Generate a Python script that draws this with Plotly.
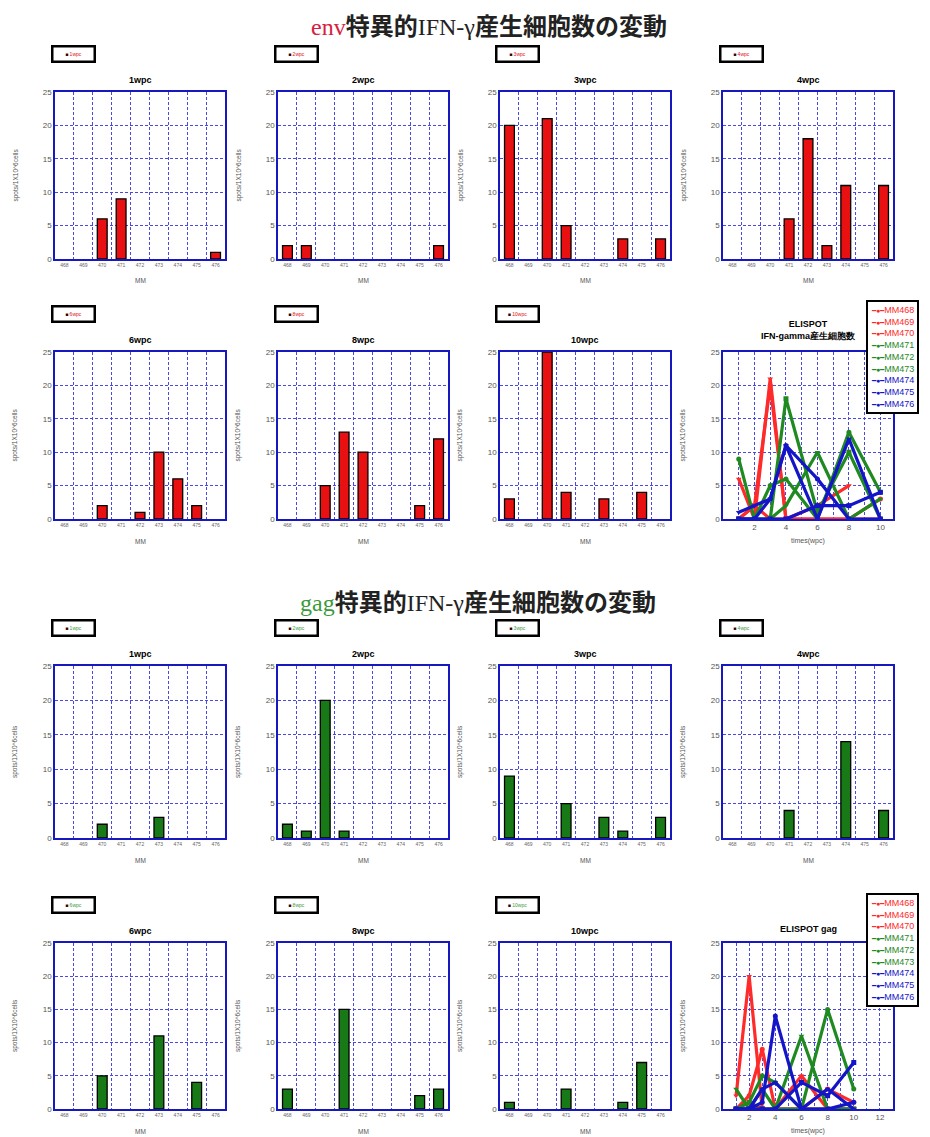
import plotly.graph_objects as go

# MM animal ids (x categories of every bar chart)
mm_ids = ["468", "469", "470", "471", "472", "473", "474", "475", "476"]
weeks = [1, 2, 3, 4, 6, 8, 10]
week_labels = ["1wpc", "2wpc", "3wpc", "4wpc", "6wpc", "8wpc", "10wpc"]

# env specific spots per week
env_1wpc = [0, 0, 6, 9, 0, 0, 0, 0, 1]
env_2wpc = [2, 2, 0, 0, 0, 0, 0, 0, 2]
env_3wpc = [20, 0, 21, 5, 0, 0, 3, 0, 3]
env_4wpc = [0, 0, 0, 6, 18, 2, 11, 0, 11]
env_6wpc = [0, 0, 2, 0, 1, 10, 6, 2, 0]
env_8wpc = [0, 0, 5, 13, 10, 0, 0, 2, 12]
env_10wpc = [3, 0, 25, 4, 0, 3, 0, 4, 0]

# gag specific spots per week
gag_1wpc = [0, 0, 2, 0, 0, 3, 0, 0, 0]
gag_2wpc = [2, 1, 20, 1, 0, 0, 0, 0, 0]
gag_3wpc = [9, 0, 0, 5, 0, 3, 1, 0, 3]
gag_4wpc = [0, 0, 0, 4, 0, 0, 14, 0, 4]
gag_6wpc = [0, 0, 5, 0, 0, 11, 0, 4, 0]
gag_8wpc = [3, 0, 0, 15, 0, 0, 0, 2, 3]
gag_10wpc = [1, 0, 0, 3, 0, 0, 1, 7, 0]

env_weeks = [env_1wpc, env_2wpc, env_3wpc, env_4wpc, env_6wpc, env_8wpc, env_10wpc]
gag_weeks = [gag_1wpc, gag_2wpc, gag_3wpc, gag_4wpc, gag_6wpc, gag_8wpc, gag_10wpc]

# the 10wpc point of MM470 is not drawn in the env line chart of the original
env_line_gaps = [("470", 10)]

W, H = 930, 1137
OFF = 8  # page body margin, positions below are measured on the screenshot
col_left = [55, 278, 500, 723]
plot_w = 170
row_top = [92, 352, 666, 943]
row_bottom = [259, 519, 838, 1109]

grid_col = "#4a4ae0"
line_col = "#1818c0"
font_main = "Liberation Sans"

# line colours per MM group
series_cols = ["#ff2a2a"] * 3 + ["#1f8a1f"] * 3 + ["#1414c8"] * 3
series_syms = ["circle", "square", "triangle-down"] * 3


def fx(v):
    return (v - OFF) / W


def fy(v):
    return 1 - (v - OFF) / H


def note(text, x, y, size, color="#555", **kw):
    a = dict(text=text, x=fx(x), y=fy(y), xref="paper", yref="paper", showarrow=False,
             xanchor="center", yanchor="middle", font=dict(size=size, color=color))
    a.update(kw)
    return a


fig = go.Figure()
axes = {}
annotations = []


def set_axes(n, row, col, xcfg):
    l = col_left[col]
    xa = dict(domain=[fx(l), fx(l + plot_w)], anchor="y%d" % n,
              showline=True, mirror=True, linecolor=line_col, linewidth=1.6,
              showgrid=True, gridcolor=grid_col, griddash="3px,2px", gridwidth=1.2,
              zeroline=False, ticks="", fixedrange=True)
    xa.update(xcfg)
    ya = dict(domain=[fy(row_bottom[row]), fy(row_top[row])], anchor="x%d" % n,
              range=[0, 25], dtick=5, showline=True, mirror=True, linecolor=line_col,
              linewidth=1.6, showgrid=True, gridcolor=grid_col, griddash="3px,2px", gridwidth=1.4,
              zeroline=False, ticks="", tickfont=dict(size=8, color="#555"), fixedrange=True)
    key = "" if n == 1 else str(n)
    axes["xaxis" + key] = xa
    axes["yaxis" + key] = ya
    # y axis title
    annotations.append(note("spots/1X10^6cells", l - 40, (row_top[row] + row_bottom[row]) / 2,
                            6.5, textangle=-90))


def add_bar_panel(n, row, col, vals, label, bar_col, txt_col):
    ax = "x" if n == 1 else "x%d" % n
    ay = "y" if n == 1 else "y%d" % n
    ys = [v if v else None for v in vals]
    fig.add_trace(go.Bar(x=mm_ids, y=ys, width=0.52, xaxis=ax, yaxis=ay, showlegend=False,
                         marker=dict(color=bar_col, line=dict(color="black", width=1.3))))
    set_axes(n, row, col, dict(type="category", tickson="boundaries", range=[-0.5, 8.5],
                               tickfont=dict(size=5, color="#666")))
    l = col_left[col]
    annotations.append(note("<b>%s</b>" % label, l + plot_w / 2, row_top[row] - 12, 9, "black"))
    annotations.append(note("<span style='color:#300'>■</span> " + label, l + 18,
                            row_top[row] - 38, 5, txt_col, bordercolor="black", borderwidth=2.5,
                            borderpad=2, bgcolor="white", width=36, height=9))
    annotations.append(note("MM", l + plot_w / 2, row_bottom[row] + 22, 6.5))


def add_line_panel(n, row, col, week_vals, gaps, xmax, xticks, title, title_y, legend_top):
    ax = "x%d" % n
    ay = "y%d" % n
    for k, mm in enumerate(mm_ids):
        ys = [wk[k] for wk in week_vals]
        for gmm, gwk in gaps:
            if gmm == mm:
                ys[weeks.index(gwk)] = None
        fig.add_trace(go.Scatter(x=weeks, y=ys, mode="lines+markers", xaxis=ax, yaxis=ay,
                                 showlegend=False, connectgaps=False, cliponaxis=True,
                                 line=dict(color=series_cols[k], width=3.2),
                                 marker=dict(color=series_cols[k], size=5, symbol=series_syms[k])))
    set_axes(n, row, col, dict(range=[0, xmax], tickvals=xticks, showgrid=True,
                               tickfont=dict(size=8, color="#555"),
                               minor=dict(dtick=1, tick0=0, showgrid=True, gridcolor=grid_col,
                                          griddash="3px,2px", gridwidth=1.2)))
    l = col_left[col]
    annotations.append(note("<b>%s</b>" % title, l + plot_w / 2, title_y, 9, "black"))
    annotations.append(note("times(wpc)", l + plot_w / 2, row_bottom[row] + 22, 7))
    legend_lines = ["<span style='color:%s'><span style='font-size:7px'>━●━</span>MM%s</span>"
                    % (series_cols[k], mm) for k, mm in enumerate(mm_ids)]
    annotations.append(note("<br>".join(legend_lines), 866, legend_top, 9, xanchor="left",
                            yanchor="top", align="left", bordercolor="black", borderwidth=2,
                            borderpad=3, bgcolor="white"))


n = 1
# env section
for i in range(7):
    row = 0 if i < 4 else 1
    col = i if i < 4 else i - 4
    add_bar_panel(n, row, col, env_weeks[i], week_labels[i], "#e81010", "#e01010")
    n += 1
add_line_panel(n, 1, 3, env_weeks, env_line_gaps, 10.8, [2, 4, 6, 8, 10],
               "ELISPOT<br>IFN-gamma産生細胞数", 330, 300)
n += 1
# gag section
for i in range(7):
    row = 2 if i < 4 else 3
    col = i if i < 4 else i - 4
    add_bar_panel(n, row, col, gag_weeks[i], week_labels[i], "#177a17", "#3a9a3a")
    n += 1
add_line_panel(n, 3, 3, gag_weeks, [], 13, [2, 4, 6, 8, 10, 12], "ELISPOT gag", 929, 893)

# section titles
serif = "font-family:Liberation Serif;font-weight:normal"
annotations.append(note(
    "<span style='color:#d82040;%s'>env</span><b>特異的</b><span style='%s'>IFN-γ</span><b>産生細胞数の変動</b>" % (serif, serif),
    489, 25, 24, "#222"))
annotations.append(note(
    "<span style='color:#3a9a3a;%s'>gag</span><b>特異的</b><span style='%s'>IFN-γ</span><b>産生細胞数の変動</b>" % (serif, serif),
    478, 600, 24, "#222"))
for a in annotations[-2:]:
    a["font"]["family"] = "Noto Sans CJK JP"

fig.update_layout(width=W, height=H, margin=dict(l=0, r=0, t=0, b=0, autoexpand=False),
                  paper_bgcolor="white", plot_bgcolor="white", bargap=0.5,
                  font=dict(family=font_main), annotations=annotations, **axes)

fig.write_html("out.html")
